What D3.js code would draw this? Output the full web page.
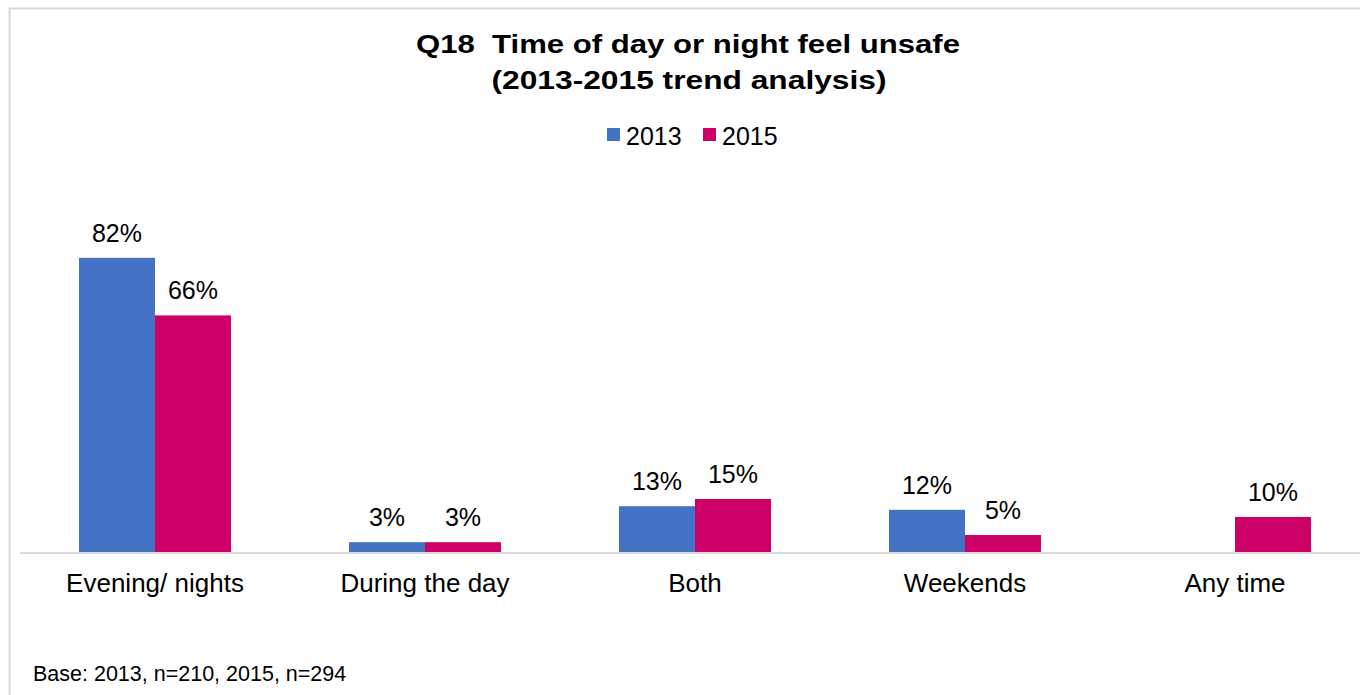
<!DOCTYPE html>
<html><head><meta charset="utf-8">
<script src="https://cdn.jsdelivr.net/npm/d3@7"></script>
<style>html,body{margin:0;padding:0;background:#fff;}svg{display:block;}</style>
</head><body>
<svg id="c" width="1360" height="695"></svg>
<script>
const categories = ["Evening/ nights","During the day","Both","Weekends","Any time"];
const seriesNames = ["2013","2015"];
const values2013 = [82, 3, 13, 12, null];
const values2015 = [66, 3, 15, 5, 10];
const colors = ["#4472C4","#CC0066"];
const titleLines = ["Q18  Time of day or night feel unsafe","(2013-2015 trend analysis)"];
const baseNote = "Base: 2013, n=210, 2015, n=294";

const svg = d3.select("#c");
const font = "Liberation Sans, Arial, sans-serif";

// frame
svg.append("path").attr("d","M9.5,700 V8.5 H1365").attr("fill","none").attr("stroke","#d9d9d9").attr("stroke-width",2);

const x0 = d3.scaleBand().domain(categories).range([20,1370]).paddingInner(0).paddingOuter(0);
const x1 = d3.scaleBand().domain(seriesNames).range([0,152]);
const y = d3.scaleLinear().domain([0,100]).range([553,193]);

const data = categories.map((c,i)=>({cat:c, vals:[values2013[i],values2015[i]]}));

const g = svg.append("g");
data.forEach(d=>{
  const gx = x0(d.cat) + (x0.bandwidth()-152)/2;
  d.vals.forEach((v,j)=>{
    if(v==null) return;
    const bx = gx + x1(seriesNames[j]);
    g.append("rect").attr("x",bx).attr("y",y(v)).attr("width",x1.bandwidth()).attr("height",y(0)-y(v)).attr("fill",colors[j]);
    g.append("text").attr("x",bx+x1.bandwidth()/2).attr("y",y(v)-16)
      .attr("text-anchor","middle").attr("font-family",font).attr("font-size",25).attr("fill","#000").text(v+"%");
  });
});

// axis
const axis = d3.axisBottom(x0).tickSize(0).tickPadding(20);
const ax = svg.append("g").attr("transform","translate(0,553)").call(axis);
ax.select(".domain").attr("stroke","#d9d9d9").attr("stroke-width",2).attr("d","M20,0H1360");
ax.selectAll("text").attr("dy",null).attr("y",39).attr("font-family",font).attr("font-size",26).attr("fill","#000");

// title
const titleW = [544, 395];
titleLines.forEach((t,i)=>{
  svg.append("text").attr("x",688 - titleW[i]/2 + (i?1:0)).attr("y",53+i*36)
    .attr("textLength",titleW[i]).attr("lengthAdjust","spacingAndGlyphs")
    .attr("font-family",font).attr("font-weight","bold").attr("font-size",25).attr("fill","#000")
    .style("white-space","pre").text(t);
});

// legend
const lg = svg.append("g");
const legX = [607, 703];
seriesNames.forEach((s,i)=>{
  lg.append("rect").attr("x",legX[i]).attr("y",128).attr("width",13).attr("height",13).attr("fill",colors[i]);
  lg.append("text").attr("x",legX[i]+19).attr("y",145).attr("font-family",font).attr("font-size",25).attr("fill","#000").text(s);
});

svg.append("text").attr("x",33).attr("y",681).attr("font-family",font).attr("font-size",21.5).attr("fill","#000").text(baseNote);
</script>
</body></html>
